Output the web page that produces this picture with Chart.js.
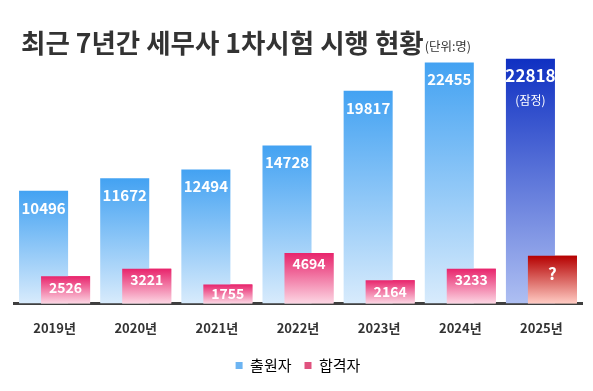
<!DOCTYPE html>
<html>
<head>
<meta charset="utf-8">
<script src="https://cdn.jsdelivr.net/npm/chart.js@4.4.1/dist/chart.umd.min.js"></script>
<style>
  html, body { margin: 0; padding: 0; background: #fff; }
  #wrap { width: 593px; height: 391px; position: relative; }
</style>
</head>
<body>
<div id="wrap"><canvas id="chart" width="593" height="391"></canvas></div>
<script>
const years = ["2019년", "2020년", "2021년", "2022년", "2023년", "2024년", "2025년"];
const applicants = [10496, 11672, 12494, 14728, 19817, 22455, 22818];
// last value is only a placeholder height for the "?" bar
const passers = [2526, 3221, 1755, 4694, 2164, 3233, 4450];
const passerLabels = ["2526", "3221", "1755", "4694", "2164", "3233", "?"];

const FONT = "'Noto Sans CJK KR', 'Noto Sans', sans-serif";
Chart.defaults.font.family = FONT;

// colours: [top, bottom] of each gradient
const blue = ["#43a2f2", "#d8ebfc"];
const blueLast = ["#0f30c2", "#aebff2"];
const pink = ["#e8246c", "#fcd6e3"];
const redLast = ["#b50000", "#ffcbc3"];

function gradientFor(normal, last) {
  return (c) => {
    const chart = c.chart;
    const y = chart.scales.y;
    const cols = c.dataIndex === years.length - 1 ? last : normal;
    if (!chart.chartArea || !y || c.raw === undefined) return cols[0];
    const g = chart.ctx.createLinearGradient(0, y.getPixelForValue(c.raw), 0, y.getPixelForValue(0));
    g.addColorStop(0, cols[0]);
    g.addColorStop(1, cols[1]);
    return g;
  };
}

const titlePlugin = {
  id: "titleText",
  beforeDraw(chart) {
    const ctx = chart.ctx;
    ctx.save();
    ctx.fillStyle = "#333";
    ctx.textBaseline = "alphabetic";
    ctx.font = "bold 26.5px " + FONT;
    const main = "최근 7년간 세무사 1차시험 시행 현황";
    ctx.fillText(main, 21, 53);
    const w = ctx.measureText(main).width;
    ctx.font = "12.5px " + FONT;
    ctx.fillText("(단위:명)", 21 + w + 1, 51);
    ctx.restore();
  },
};

const labelPlugin = {
  id: "barLabels",
  afterDatasetsDraw(chart) {
    // passers sit on top of the applicant bars
    chart.getDatasetMeta(1).controller.draw();

    const ctx = chart.ctx;
    ctx.save();
    ctx.fillStyle = "#fff";
    ctx.textAlign = "center";
    ctx.textBaseline = "middle";

    const last = years.length - 1;
    chart.getDatasetMeta(0).data.forEach((bar, i) => {
      ctx.font = (i === last ? "bold 17px " : "bold 15px ") + FONT;
      ctx.fillText(String(applicants[i]), bar.x, bar.y + 17);
      if (i === last) {
        ctx.font = "12px " + FONT;
        ctx.fillText("(잠정)", bar.x, bar.y + 42);
      }
    });

    chart.getDatasetMeta(1).data.forEach((bar, i) => {
      const h = bar.base - bar.y;
      let off = Math.min(11, h / 2);
      if (i === last) off = 18;
      ctx.font = (i === last ? "bold 17px " : "bold 14px ") + FONT;
      ctx.fillText(passerLabels[i], bar.x, bar.y + off);
    });
    ctx.restore();
  },
};

new Chart(document.getElementById("chart"), {
  type: "bar",
  data: {
    labels: years,
    datasets: [
      {
        label: "출원자",
        data: applicants,
        backgroundColor: gradientFor(blue, blueLast),
        categoryPercentage: 0.542,
        barPercentage: 2.23,
      },
      {
        label: "합격자",
        data: passers,
        backgroundColor: gradientFor(pink, redLast),
        categoryPercentage: 0.542,
        barPercentage: 2.23,
      },
    ],
  },
  options: {
    responsive: false,
    animation: false,
    devicePixelRatio: 1,
    layout: { padding: { top: 46, left: 14, right: 11, bottom: 8 } },
    plugins: {
      tooltip: { enabled: false },
      title: { display: false },
      legend: {
        position: "bottom",
        onClick: null,
        labels: {
          color: "#333",
          font: { size: 15 },
          boxWidth: 7,
          boxHeight: 7,
          padding: 13,
          generateLabels: () => [
            { text: "출원자", fillStyle: "#6cb4f2", strokeStyle: "#6cb4f2", lineWidth: 0, datasetIndex: 0 },
            { text: "합격자", fillStyle: "#e0527f", strokeStyle: "#e0527f", lineWidth: 0, datasetIndex: 1 },
          ],
        },
      },
    },
    scales: {
      x: {
        grid: { display: false },
        border: { display: true, color: "#3f3f3f", width: 3 },
        ticks: { color: "#333", font: { size: 13, weight: "bold" }, padding: 9 },
      },
      y: {
        display: false,
        min: 0,
        max: 24000,
      },
    },
  },
  plugins: [titlePlugin, labelPlugin],
});
</script>
</body>
</html>
